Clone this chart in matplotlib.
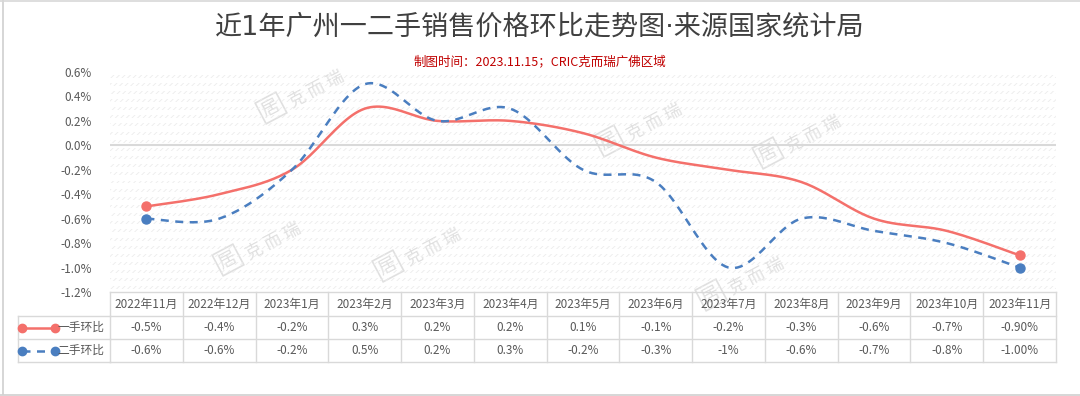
import matplotlib
matplotlib.use("Agg")
import matplotlib.pyplot as plt
import matplotlib.transforms as mtransforms
import numpy as np

plt.rcParams['font.family'] = ['Noto Sans CJK SC', 'DejaVu Sans']
plt.rcParams['hatch.linewidth'] = 0.6

months = ['2022年11月', '2022年12月', '2023年1月', '2023年2月', '2023年3月', '2023年4月',
          '2023年5月', '2023年6月', '2023年7月', '2023年8月', '2023年9月', '2023年10月', '2023年11月']
first_hand = [-0.5, -0.4, -0.2, 0.3, 0.2, 0.2, 0.1, -0.1, -0.2, -0.3, -0.6, -0.7, -0.9]
second_hand = [-0.6, -0.6, -0.2, 0.5, 0.2, 0.3, -0.2, -0.3, -1.0, -0.6, -0.7, -0.8, -1.0]
first_labels = ['-0.5%', '-0.4%', '-0.2%', '0.3%', '0.2%', '0.2%', '0.1%', '-0.1%', '-0.2%', '-0.3%', '-0.6%', '-0.7%', '-0.90%']
second_labels = ['-0.6%', '-0.6%', '-0.2%', '0.5%', '0.2%', '0.3%', '-0.2%', '-0.3%', '-1%', '-0.6%', '-0.7%', '-0.8%', '-1.00%']
series_names = ['一手环比', '二手环比']
yticks = [0.6, 0.4, 0.2, 0.0, -0.2, -0.4, -0.6, -0.8, -1.0, -1.2]

red = '#F4706B'
blue = '#4A7EC0'
grey_txt = '#595959'
line_c = '#D9D9D9'


def smooth(xs, ys, n=24):
    # excel-like smoothing: cubic bezier through points (catmull-rom controls)
    pts = np.column_stack([xs, ys]).astype(float)
    P = np.vstack([pts[0], pts, pts[-1]])
    out = []
    t = np.linspace(0, 1, n, endpoint=False)[:, None]
    for i in range(1, len(P) - 2):
        p0, p1, p2, p3 = P[i - 1], P[i], P[i + 1], P[i + 2]
        c1 = p1 + (p2 - p0) / 6
        c2 = p2 - (p3 - p1) / 6
        seg = (1 - t) ** 3 * p1 + 3 * (1 - t) ** 2 * t * c1 + 3 * (1 - t) * t ** 2 * c2 + t ** 3 * p2
        out.append(seg)
    out.append(pts[-1:])
    out = np.vstack(out)
    return out[:, 0], out[:, 1]


W, H = 1080, 396
fig = plt.figure(figsize=(W / 100, H / 100), dpi=100)
fig.patch.set_facecolor('white')

# overlay in pixel coordinates (table, watermark, frame)
ov = fig.add_axes([0, 0, 1, 1], zorder=0)
ov.set_xlim(0, W)
ov.set_ylim(H, 0)
ov.axis('off')

x0, x1, ytop, ybot = 110, 1056, 72, 292
ax = fig.add_axes([x0 / W, 1 - ybot / H, (x1 - x0) / W, (ybot - ytop) / H], zorder=1)
ax.patch.set_alpha(0)
x = np.arange(len(months))
ax.set_xlim(-0.5, len(months) - 0.5)
ax.set_ylim(-1.2, 0.6)

# faint hatched background rows
step = 0.2 / 3
for yy in np.arange(-1.2 + step / 2, 0.6, step):
    ax.axhspan(yy - 0.012, yy + 0.012, facecolor='none', edgecolor='#ECECEC', hatch='//////', lw=0, zorder=0)
ax.axhline(0, color='#D9D9D9', lw=1.5, zorder=1)

sx, sy = smooth(x, first_hand)
ax.plot(sx, sy, color=red, lw=1.8, zorder=3, solid_capstyle='round')
ax.plot(x[[0, -1]], np.array(first_hand)[[0, -1]], 'o', color=red, ms=6.5, zorder=4)
sx, sy = smooth(x, second_hand)
ax.plot(sx, sy, color=blue, lw=1.8, ls=(0, (3.2, 2.6)), zorder=3)
ax.plot(x[[0, -1]], np.array(second_hand)[[0, -1]], 'o', color=blue, ms=6.5, zorder=4)

ax.set_yticks(yticks)
ax.set_yticklabels([f'{v:.1f}%' for v in yticks])
ax.tick_params(axis='y', length=0, pad=13, labelsize=8.5, labelcolor=grey_txt)
ax.set_xticks([])
for s in ax.spines.values():
    s.set_visible(False)

# table below the plot (x in data units of main axes, y in pixels)
bt = mtransforms.blended_transform_factory(ax.transData, ov.transData)
r0, r1, r2, r3 = 292, 316, 339, 362
leg_left = 18
ov.plot([-0.5, len(months) - 0.5], [r0, r0], color=line_c, lw=1, transform=bt)
for yy in (r1, r2, r3):
    ov.plot([-0.5, len(months) - 0.5], [yy, yy], color=line_c, lw=1, transform=bt)
    ov.plot([leg_left, x0], [yy, yy], color=line_c, lw=1)
ov.plot([leg_left, leg_left], [r1, r3], color=line_c, lw=1)
for k in range(len(months) + 1):
    ov.plot([k - 0.5, k - 0.5], [r0, r3], color=line_c, lw=1, transform=bt)
for i, m in enumerate(months):
    ov.text(i, (r0 + r1) / 2, m, ha='center', va='center', fontsize=8.5, color=grey_txt, transform=bt)
    ov.text(i, (r1 + r2) / 2, first_labels[i], ha='center', va='center', fontsize=8.5, color=grey_txt, transform=bt)
    ov.text(i, (r2 + r3) / 2, second_labels[i], ha='center', va='center', fontsize=8.5, color=grey_txt, transform=bt)

# legend keys in the table
ym1, ym2 = (r1 + r2) / 2, (r2 + r3) / 2
ov.plot([22, 55], [ym1, ym1], color=red, lw=1.8)
ov.plot([22, 55], [ym1, ym1], 'o', color=red, ms=6)
ov.plot([22, 55], [ym2, ym2], color=blue, lw=1.8, ls=(0, (3.2, 2.6)))
ov.plot([22, 55], [ym2, ym2], 'o', color=blue, ms=6)
ov.text(104, ym1, series_names[0], ha='right', va='center', fontsize=8.5, color=grey_txt)
ov.text(104, ym2, series_names[1], ha='right', va='center', fontsize=8.5, color=grey_txt)

# watermarks
for wx, wy in [(305, 95), (262, 247), (422, 253), (643, 128), (802, 140), (745, 282)]:
    ov.text(wx + 12, wy - 6, '克 而 瑞', rotation=28, rotation_mode='anchor', ha='center', va='center',
            fontsize=12.5, color='#E0E0E0', zorder=0)
    ov.text(wx - 34, wy + 13, '居', rotation=28, rotation_mode='anchor', ha='center', va='center',
            fontsize=13, color='#E0E0E0', zorder=0,
            bbox=dict(boxstyle='square,pad=0.15', fc='none', ec='#E0E0E0', lw=1.2))

# titles
fig.text(0.5, 1 - 28 / H, '近1年广州一二手销售价格环比走势图·来源国家统计局', ha='center', va='center',
         fontsize=19.5, color='#404040', family=['DejaVu Sans', 'Noto Sans CJK SC'])
fig.text(0.5, 1 - 62 / H, '制图时间：2023.11.15；CRIC克而瑞广佛区域', ha='center', va='center',
         fontsize=9, color='#C00000')

# frame
ov.plot([2.5, 2.5], [0, 394], color='#D0D0D0', lw=1.2)
ov.plot([0, W], [394.5, 394.5], color='#D0D0D0', lw=1.2)
ov.plot([0, W], [0.8, 0.8], color='#D8D8D8', lw=1.2)

fig.savefig('out.png', dpi=100)
